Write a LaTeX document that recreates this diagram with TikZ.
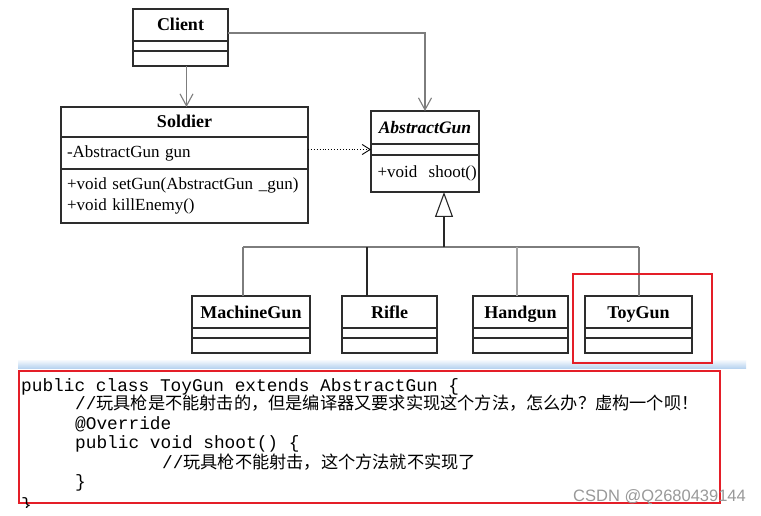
\documentclass[tikz,border=0pt]{standalone}
\usepackage{fontspec}
\setmainfont{Liberation Serif}
\setmonofont{Liberation Mono}
\setsansfont{Liberation Sans}
\newfontfamily\cjk{Noto Sans CJK SC}
\usetikzlibrary{arrows.meta,calc}
\definecolor{boxc}{RGB}{45,45,45}
\definecolor{connc}{RGB}{125,125,125}
\definecolor{darkc}{RGB}{40,40,40}
\definecolor{redc}{RGB}{228,30,40}
\definecolor{bandc}{RGB}{185,212,240}
\begin{document}
\begin{tikzpicture}[x=1pt,y=-1pt,
  cell/.style={draw=boxc,line width=1.1pt,inner sep=0pt,outer sep=0pt,anchor=north west},
  title/.style={cell,text height=13.5pt,text depth=1.5pt,font=\fontsize{18}{20}\selectfont\bfseries},
  members/.style={cell,inner xsep=5pt,align=left,font=\fontsize{17}{21}\selectfont},
  conn/.style={draw=connc,line width=1.1pt},
  dconn/.style={draw=darkc,line width=1.1pt},
  barb/.style={-{Straight Barb[length=12pt,width=13pt]}},
  redbox/.style={draw=redc,line width=1.8pt},
  code/.style={anchor=base west,inner sep=0pt,font=\fontsize{17.8}{20}\selectfont\ttfamily}
]
\useasboundingbox (0,0) rectangle (761,516);
\fill[white] (0,0) rectangle (761,516);

% Client
\node[title,minimum width=95pt,minimum height=32pt] (client) at (133,9) {Client};
\node[cell,minimum width=95pt,minimum height=10pt] (client2) at (client.south west) {};
\node[cell,minimum width=95pt,minimum height=15pt] (client3) at (client2.south west) {};

% Soldier
\node[title,minimum width=247pt,minimum height=30pt] (soldier) at (61,107) {Soldier};
\node[members,text width=237pt,minimum height=32pt] (soldier2) at (soldier.south west) {\mbox{\hspace{1pt}-AbstractGun gun}};
\node[members,text width=237pt,minimum height=54pt] (soldier3) at (soldier2.south west) {\mbox{\hspace{1pt}+void setGun(AbstractGun \_gun)}\\\mbox{\hspace{1pt}+void killEnemy()}};

% AbstractGun
\node[title,minimum width=108pt,minimum height=33pt,font=\fontsize{17.5}{20}\selectfont\bfseries\itshape] (ag) at (371,111) {AbstractGun};
\node[cell,minimum width=108pt,minimum height=11pt] (ag2) at (ag.south west) {};
\node[members,text width=102pt,inner xsep=3pt,minimum height=37pt] (ag3) at (ag2.south west) {\mbox{\hspace{3.5pt}+void\ \ shoot()}};

% Subclasses
\node[title,minimum width=118pt,minimum height=32pt] (mg) at (192,296) {MachineGun};
\node[cell,minimum width=118pt,minimum height=10pt] (mg2) at (mg.south west) {};
\node[cell,minimum width=118pt,minimum height=15pt] (mg3) at (mg2.south west) {};

\node[title,minimum width=95pt,minimum height=32pt] (rf) at (342,296) {Rifle};
\node[cell,minimum width=95pt,minimum height=10pt] (rf2) at (rf.south west) {};
\node[cell,minimum width=95pt,minimum height=15pt] (rf3) at (rf2.south west) {};

\node[title,minimum width=95pt,minimum height=32pt] (hg) at (473,296) {Handgun};
\node[cell,minimum width=95pt,minimum height=10pt] (hg2) at (hg.south west) {};
\node[cell,minimum width=95pt,minimum height=15pt] (hg3) at (hg2.south west) {};

\node[title,minimum width=107pt,minimum height=32pt] (tg) at (585,296) {ToyGun};
\node[cell,minimum width=107pt,minimum height=10pt] (tg2) at (tg.south west) {};
\node[cell,minimum width=107pt,minimum height=15pt] (tg3) at (tg2.south west) {};

% Connectors
\draw[conn,barb] ([xshift=6pt]client3.south) -- ([xshift=6pt]client3.south |- soldier.north);
\draw[conn,barb] ([yshift=-8pt]client.east) -| (ag.north);
\draw[draw=black,line width=0.9pt,dotted,-{Straight Barb[length=8pt,width=10pt]}] (ag2.west -| soldier2.east) -- (ag2.west);

\coordinate (busL) at (243,247);
\coordinate (busR) at (639,247);
\coordinate (busM) at (444,247);
\coordinate (busR2) at (367,247);
\coordinate (busH) at (517,247);
\draw[conn] (busL) -- (busR);
\draw[conn] (busL) -- (busL |- mg.north);
\draw[dconn] (busR2) -- (busR2 |- rf.north);
\draw[conn,draw=connc!70] (busH) -- (busH |- hg.north);
\draw[conn] (busR) -- (busR |- tg.north);
\draw[dconn,-{Triangle[open,length=25pt,width=18pt]}] (busM) -- (busM |- ag3.south);

% band
\shade[top color=white,bottom color=bandc] (18,359) rectangle (746,368);

% red boxes
\draw[redbox] (573,274) rectangle (712,363);
\draw[redbox] (19,371) rectangle (720,503);

% code
\node[code] (c1) at (21,391) {public class ToyGun extends AbstractGun \{};
\node[code] (c2) at (75,409) {//{\cjk\fontsize{17.2}{20}\selectfont 玩具枪是不能射击的，但是编译器又要求实现这个方法，怎么办？虚构一个呗！}};
\node[code] (c3) at (75,429) {@Override};
\node[code] (c4) at (75,448) {public void shoot() \{};
\node[code] (c5) at (162,468) {//{\cjk\fontsize{17.2}{20}\selectfont 玩具枪不能射击，这个方法就不实现了}};
\node[code] (c6) at (75,487) {\}};
\begin{scope}
\clip (0,0) rectangle (761,507);
\node[code] (c7) at (21,510) {\}};
\end{scope}

% watermark
\node[anchor=west,inner sep=0pt,font=\sffamily\fontsize{16.5}{18}\selectfont,text=black!40] (wm) at (573,497) {CSDN @Q2680439144};
\end{tikzpicture}
\end{document}
